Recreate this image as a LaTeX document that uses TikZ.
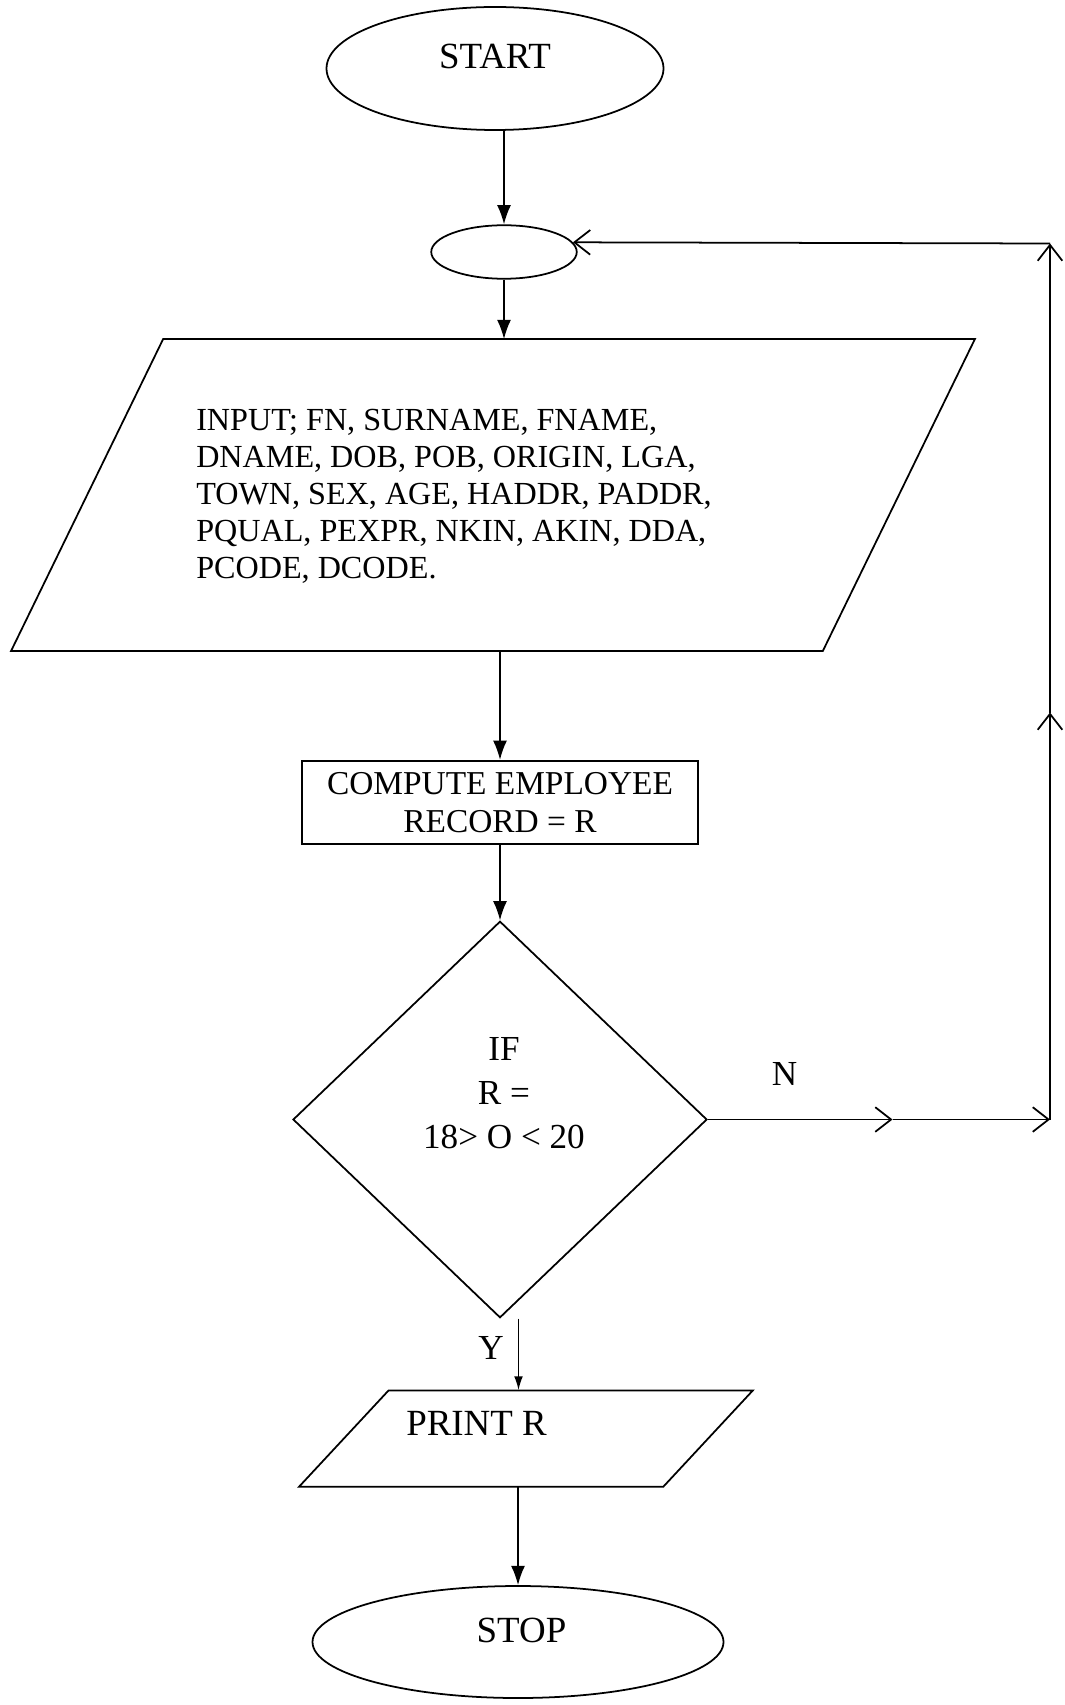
\documentclass[tikz,border=0pt]{standalone}
\usepackage{fontspec}
\setmainfont{Liberation Serif}
\usetikzlibrary{arrows.meta}
\usetikzlibrary{shapes.geometric}

\begin{document}
\begin{tikzpicture}[line width=1pt]
      \useasboundingbox (0,0) rectangle (21.28,-34.1);
      \tikzstyle{every node}=[inner sep=0pt]
      \tikzstyle{term}=[draw, ellipse]
      \tikzstyle{io}=[rectangle]
      \tikzstyle{flow}=[-{Latex[length=11pt,width=8pt]}]
      \tikzstyle{back}=[-{Straight Barb[length=9pt,width=14pt]}]

      % main column
      \node[term, minimum width=6.74cm, minimum height=2.46cm,
            label={[font=\fontsize{21}{25}\selectfont, yshift=0.25cm]center:START}] (start) at (9.9,-1.37) {};
      \node[term, minimum width=2.91cm, minimum height=1.07cm] (loop) at (10.08,-5.04) {};
      \node[io, minimum width=16.2cm, minimum height=6.2cm,
            label={[font=\fontsize{18.3}{21}\selectfont, align=left, xshift=-0.78cm, yshift=-0.03cm]center:INPUT; FN, SURNAME, FNAME,\\
              DNAME, DOB, POB, ORIGIN, LGA,\\TOWN, SEX, AGE, HADDR, PADDR,\\
              PQUAL, PEXPR, NKIN, AKIN, DDA,\\PCODE, DCODE.}] (input) at (9.86,-9.9) {};
      \node[draw, minimum width=7.91cm, minimum height=1.67cm, align=center,
            font=\fontsize{19}{21.6}\selectfont] (box) at (10.0,-16.05) {COMPUTE EMPLOYEE\\RECORD = R};
      \node[draw, diamond, minimum width=8.28cm, minimum height=7.93cm,
            label={[font=\fontsize{20}{25}\selectfont, align=center, yshift=0.52cm, xshift=0.08cm]center:IF\\R =\\18> O < 20}] (dec) at (10.0,-22.39) {};
      \node[io, minimum width=7.25cm, minimum height=1.89cm,
            label={[font=\fontsize{21}{25}\selectfont, xshift=-0.99cm, yshift=0.3cm]center:PRINT R}] (print) at (10.52,-28.77) {};
      \node[term, minimum width=8.22cm, minimum height=2.24cm,
            label={[font=\fontsize{21}{25}\selectfont, yshift=0.24cm, xshift=0.07cm]center:STOP}] (stop) at (10.36,-32.84) {};

      % slanted sides of the in/out boxes
      \draw ([xshift=1.52cm]input.north west) -- ([xshift=1.52cm]input.north east)
            -- ([xshift=-1.52cm]input.south east) -- ([xshift=-1.52cm]input.south west) -- cycle;
      \draw ([xshift=0.895cm]print.north west) -- ([xshift=0.895cm]print.north east)
            -- ([xshift=-0.895cm]print.south east) -- ([xshift=-0.895cm]print.south west) -- cycle;

      \node[font=\fontsize{20}{24}\selectfont] (nlab) at (15.69,-21.48) {N};
      \node[font=\fontsize{20}{24}\selectfont] (ylab) at (9.82,-26.95) {Y};

      \coordinate (yfoot)     at ([xshift=0.37cm]dec.south);
      \coordinate (nmid)      at (17.85,-22.39);
      \coordinate (ncorner)   at (21.0,-22.39);
      \coordinate (upmid)     at (21.0,-14.25);
      \coordinate (topcorner) at (21.0,-4.87);

      \draw[flow] (start.south -| loop.north) -- (loop.north);
      \draw[flow] (loop.south) -- (loop.south |- input.north);
      \draw[flow] (box.north |- input.south) -- (box.north);
      \draw[flow] (box.south) -- (dec.north);
      \draw[-{Latex[length=8pt,width=5pt]}] (yfoot) -- (yfoot |- print.north);
      \draw[flow] (stop.north |- print.south) -- (stop.north);

      % the N way back up
      \draw[back] (dec.east) -- (nmid);
      \draw[back] (nmid) -- (ncorner);
      \draw[back] (ncorner) -- (upmid);
      \draw[back] (upmid) -- (topcorner);
      \draw[back] (topcorner) -- (loop.8);
\end{tikzpicture}
\end{document}
